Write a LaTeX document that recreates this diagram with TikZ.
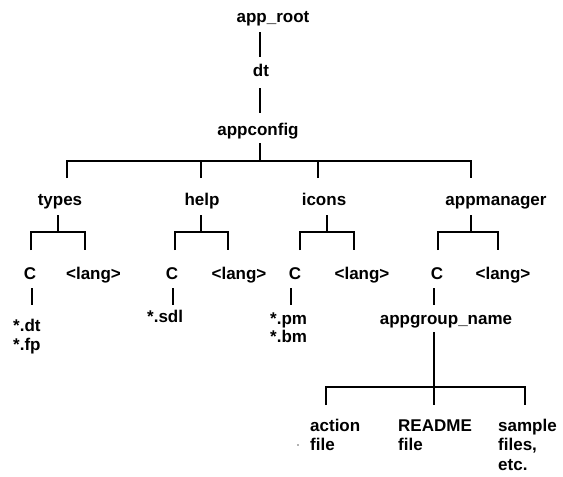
\documentclass[tikz,border=0pt]{standalone}
\usepackage{fontspec}
\setmainfont{Liberation Sans}
\begin{document}
\begin{tikzpicture}[x=1pt,y=-1pt,
  ln/.style={line width=2pt},
  lbl/.style={font=\fontsize{17}{19}\selectfont\bfseries, inner sep=0pt, anchor=base},
  lbw/.style={lbl, anchor=base west}]
\useasboundingbox[fill=white] (0,0) rectangle (563,477);
% labels
\node[lbl] (approot) at (273,22) {app\_root};
\node[lbl] (dt) at (261,76) {dt};
\node[lbl] (appconfig) at (258,135) {appconfig};
\node[lbl] (types) at (60,205) {types};
\node[lbl] (help) at (202,205) {help};
\node[lbl] (icons) at (324,205) {icons};
\node[lbl] (appmanager) at (496,205) {appmanager};
\node[lbl] (c1) at (30,279) {C};
\node[lbl] (l1) at (93.5,279) {<lang>};
\node[lbl] (c2) at (172,279) {C};
\node[lbl] (l2) at (239,279) {<lang>};
\node[lbl] (c3) at (295,279) {C};
\node[lbl] (l3) at (362,279) {<lang>};
\node[lbl] (c4) at (437,279) {C};
\node[lbl] (l4) at (503,279) {<lang>};
\node[lbw] (fdt) at (13,331) {*.dt};
\node[lbw] (ffp) at (13,350) {*.fp};
\node[lbw] (fsdl) at (147,322) {*.sdl};
\node[lbw] (fpm) at (270,324) {*.pm};
\node[lbw] (fbm) at (270,342) {*.bm};
\node[lbl] (appgroup) at (446,324) {appgroup\_name};
\node[lbw] (action) at (310,431) {action};
\node[lbw] (action2) at (310,450) {file};
\node[lbw] (readme) at (398,431) {README};
\node[lbw] (readme2) at (398,450) {file};
\node[lbw] (sample) at (498,431) {sample};
\node[lbw] (sample2) at (498,450) {files,};
\node[lbw] (sample3) at (498,470) {etc.};
% stray dot
\fill[black!60] (298,445) circle (0.8);
% connectors: root chain
\coordinate (r1) at (260,32); \coordinate (r2) at (260,57);
\draw[ln] (r1) -- (r2);
\coordinate (r3) at (260,88); \coordinate (r4) at (260,113);
\draw[ln] (r3) -- (r4);
\coordinate (r5) at (260,143); \coordinate (r6) at (260,161);
\draw[ln] (r5) -- (r6);
% top bar
\coordinate (tb1) at (66.5,178); \coordinate (tb2) at (200.7,178);
\coordinate (tb3) at (318,178); \coordinate (tb4) at (471,178);
\draw[ln] (tb1) |- (r6) -| (tb4);
\draw[ln] (tb2) -- (tb2 |- r6);
\draw[ln] (tb3) -- (tb3 |- r6);
% types fork
\coordinate (t0) at (57.5,215);
\coordinate (t1) at (30.6,250); \coordinate (t2) at (84.5,250);
\draw[ln] (t0) -- (57.5,232);
\draw[ln] (t1) |- (57.5,232) -| (t2);
% help fork
\coordinate (h0) at (200.7,215);
\coordinate (h1) at (174.5,250); \coordinate (h2) at (228.4,250);
\draw[ln] (h0) -- (200.7,232);
\draw[ln] (h1) |- (200.7,232) -| (h2);
% icons fork
\coordinate (i0) at (327,215);
\coordinate (i1) at (300,250); \coordinate (i2) at (354,250);
\draw[ln] (i0) -- (327,232);
\draw[ln] (i1) |- (327,232) -| (i2);
% appmanager fork
\coordinate (m0) at (471,215);
\coordinate (m1) at (438,250); \coordinate (m2) at (498,250);
\draw[ln] (m0) -- (471,232);
\draw[ln] (m1) |- (471,232) -| (m2);
% C lines
\draw[ln] (32,288) -- (32,305);
\draw[ln] (173,288) -- (173,305);
\draw[ln] (290.6,288) -- (290.6,305);
\draw[ln] (434,288) -- (434,305);
% appgroup fork
\coordinate (g0) at (434,332); \coordinate (g1) at (434,387);
\coordinate (g2) at (326,405); \coordinate (g3) at (434,405); \coordinate (g4) at (525,405);
\draw[ln] (g0) -- (g3);
\draw[ln] (g2) |- (g1) -| (g4);
\end{tikzpicture}
\end{document}
